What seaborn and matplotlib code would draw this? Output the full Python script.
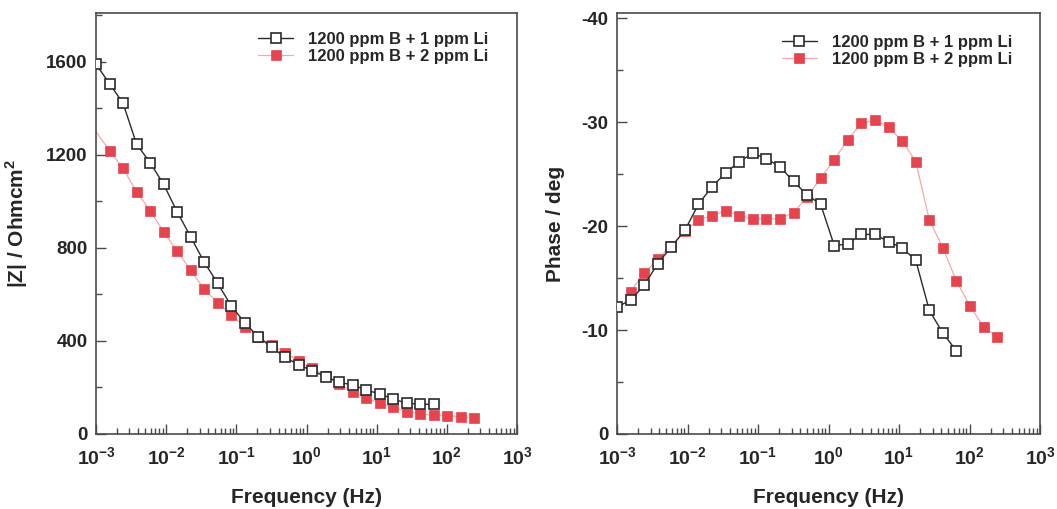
import numpy as np
import pandas as pd
import matplotlib
matplotlib.use("Agg")
import matplotlib.pyplot as plt
import seaborn as sns
from matplotlib.lines import Line2D
from matplotlib.ticker import FixedLocator, FixedFormatter, LogLocator, NullFormatter, MultipleLocator

# ---------------- data ----------------
freq = [0.001, 0.00156, 0.00243, 0.00378, 0.00589, 0.00918, 0.0143, 0.0223,
        0.0347, 0.0541, 0.0843, 0.131, 0.205, 0.319, 0.497, 0.774, 1.21, 1.88,
        2.93, 4.56, 7.11, 11.1, 17.3, 26.9, 41.9, 65.3, 102, 158, 247]

z_1li = [1590, 1506, 1422, 1247, 1167, 1074, 956, 848, 740, 648, 552, 479, 418,
         373, 330, 297, 272, 246, 222, 211, 189, 172, 150, 132, 128, 128]
z_2li = [1300, 1218, 1142, 1042, 960, 870, 787, 705, 623, 565, 512, 461, 418,
         383, 350, 314, 282, 249, 214, 182, 156, 132, 115, 96, 86, 82, 79, 74, 70]

phase_1li = [-12.2, -12.9, -14.3, -16.4, -18.0, -19.6, -22.1, -23.8, -25.1, -26.2,
             -27.0, -26.5, -25.7, -24.3, -23.0, -22.1, -18.1, -18.3, -19.2, -19.2,
             -18.5, -17.9, -16.7, -11.9, -9.7, -8.0]
phase_2li = [-13.7, -15.5, -16.8, -18.1, -19.5, -20.6, -21.0, -21.5, -21.0, -20.7,
             -20.7, -20.7, -21.3, -22.8, -24.6, -26.4, -28.3, -29.9, -30.2, -29.5,
             -28.2, -26.2, -20.6, -17.9, -14.7, -12.3, -10.3, -9.35]

series_labels = ["1200 ppm B + 1 ppm Li", "1200 ppm B + 2 ppm Li"]
xtick_values = [1e-3, 1e-2, 1e-1, 1e0, 1e1, 1e2, 1e3]
xtick_labels = ["-3", "-2", "-1", "0", "1", "2", "3"]
z_ticks = [0, 400, 800, 1200, 1600]
phase_ticks = [0, -10, -20, -30, -40]

# ---------------- style ----------------
sns.set_style("white")
plt.rcParams["font.family"] = ["Liberation Sans", "DejaVu Sans"]
plt.rcParams["mathtext.fontset"] = "custom"
plt.rcParams["mathtext.rm"] = "Liberation Sans"
plt.rcParams["mathtext.bf"] = "Liberation Sans:bold"

BLACK = "#2b2b2b"
RED = "#e5444e"
PINK = "#f5a9ab"
SPINE = "#4a4a4a"

fig = plt.figure(figsize=(10.57, 5.09), dpi=100)
axL = fig.add_axes([96 / 1057, 75 / 509, 421 / 1057, 421 / 509])
axR = fig.add_axes([617 / 1057, 75 / 509, 423 / 1057, 421 / 509])

df_z1 = pd.DataFrame({"f": freq[:len(z_1li)], "v": z_1li})
df_z2 = pd.DataFrame({"f": freq[:len(z_2li)], "v": z_2li})
df_p1 = pd.DataFrame({"f": freq[:len(phase_1li)], "v": phase_1li})
df_p2 = pd.DataFrame({"f": freq[1:1 + len(phase_2li)], "v": phase_2li})

black_kw = dict(color=BLACK, lw=1.0, marker="s", markersize=7.8,
                markerfacecolor="white", markeredgecolor=BLACK, markeredgewidth=1.2)
red_kw = dict(color=PINK, lw=0.9, marker="s", markersize=7.0,
              markerfacecolor=RED, markeredgecolor=RED, markeredgewidth=0.5)

# left panel
sns.lineplot(data=df_z2, x="f", y="v", ax=axL, markevery=list(range(1, len(z_2li))),
             zorder=2, **red_kw)
sns.lineplot(data=df_z1, x="f", y="v", ax=axL, zorder=3, **black_kw)
# right panel
sns.lineplot(data=df_p2, x="f", y="v", ax=axR, zorder=2, **red_kw)
sns.lineplot(data=df_p1, x="f", y="v", ax=axR, zorder=3, **black_kw)

for ax in (axL, axR):
    ax.set_xscale("log")
    ax.set_xlim(1e-3, 1e3)
    ax.xaxis.set_major_locator(FixedLocator(xtick_values))
    ax.xaxis.set_major_formatter(FixedFormatter(
        [r"$\mathbf{10^{%s}}$" % s for s in xtick_labels]))
    ax.xaxis.set_minor_locator(LogLocator(base=10, subs=np.arange(2, 10), numticks=20))
    ax.xaxis.set_minor_formatter(NullFormatter())
    ax.tick_params(axis="both", which="major", direction="in", length=7, width=1.0,
                   color=SPINE, labelsize=14, bottom=True, left=True, top=False, right=False)
    ax.tick_params(axis="both", which="minor", direction="in", length=4, width=1.0,
                   color=SPINE, bottom=True, left=True, top=False, right=False)
    ax.tick_params(axis="x", which="major", pad=9)
    ax.tick_params(axis="y", which="major", pad=6)
    for sp in ax.spines.values():
        sp.set_visible(True)
        sp.set_color(SPINE)
        sp.set_linewidth(1.2)
    ax.set_xlabel("Frequency (Hz)", fontsize=15, fontweight="bold", labelpad=14)
    ax.grid(False)

axL.set_ylim(0, 1810)
axL.set_yticks(z_ticks)
axL.yaxis.set_minor_locator(MultipleLocator(200))
axL.set_yticklabels([str(t) for t in z_ticks], fontweight="bold", fontsize=13.5)
axL.set_ylabel(r"|Z| / Ohmcm$^\mathbf{2}$", fontsize=15, fontweight="bold", labelpad=12)

axR.set_ylim(0, -40.5)
axR.set_yticks(phase_ticks)
axR.yaxis.set_minor_locator(MultipleLocator(5))
axR.set_yticklabels([str(t) for t in phase_ticks], fontweight="bold", fontsize=13.5)
axR.set_ylabel("Phase / deg", fontsize=15, fontweight="bold", labelpad=12)

# legends
h_black = Line2D([], [], **black_kw)
h_red = Line2D([], [], **red_kw)
leg_kw = dict(loc="upper left", frameon=False, numpoints=1, handlelength=2.1,
              handletextpad=0.9, labelspacing=0.12, borderpad=0, borderaxespad=0,
              prop=dict(size=12, weight="bold"))
axL.legend([h_black, h_red], series_labels, bbox_to_anchor=(0.385, 0.955), **leg_kw)
axR.legend([h_black, h_red], series_labels, bbox_to_anchor=(0.39, 0.948), **leg_kw)

fig.savefig("out.png", dpi=100, facecolor="white")
